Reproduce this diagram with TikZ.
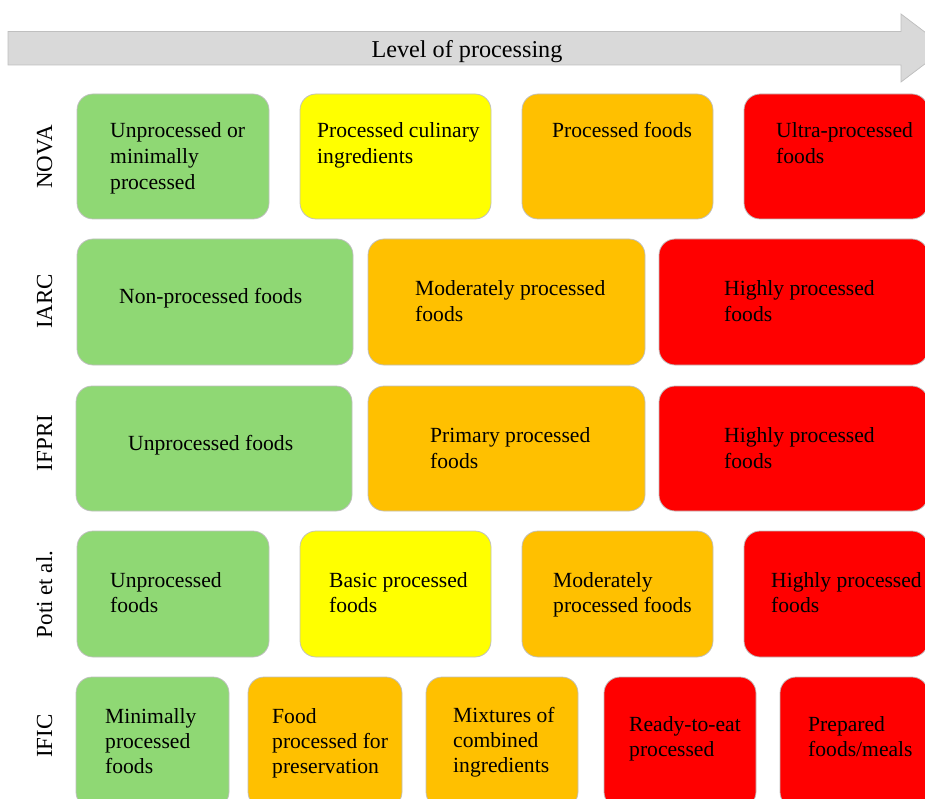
\documentclass[tikz,border=0pt]{standalone}
\usepackage{fontspec}
\setmainfont{Liberation Serif}
\usetikzlibrary{fit}
\definecolor{cgreen}{HTML}{8FD874}
\definecolor{cyellow}{HTML}{FFFF00}
\definecolor{corange}{HTML}{FFC000}
\definecolor{cred}{HTML}{FF0000}
\definecolor{carrow}{HTML}{D9D9D9}
\definecolor{cedge}{HTML}{BFBFBF}
\newcommand\tl[1]{\begin{tabular}[t]{@{}l@{}}#1\end{tabular}}
\newcommand\bx[6]{\node[catbox, fill=#2, fit={(#3,#4) (#5,#6)}] (#1) {};}
\tikzset{
  catbox/.style={draw=cedge, line width=0.75pt, rounded corners=16pt, inner sep=0pt, outer sep=0pt},
  boxtext/.style={anchor=base west, inner sep=0pt, font=\fontsize{21.6}{26}\selectfont},
  boxtextB/.style={anchor=base west, inner sep=0pt, font=\fontsize{21.6}{25}\selectfont},
  rowlabel/.style={rotate=90, anchor=base, inner sep=0pt, font=\fontsize{23}{27}\selectfont},
  arrowshape/.style={fill=carrow, draw=cedge, line width=0.75pt}
}
\begin{document}
\begin{tikzpicture}[x=1pt, y=-1pt]
\useasboundingbox (0,0) rectangle (925,799);
\clip (0,0) rectangle (925,799);
% arrow
\coordinate (a0) at (8,31.5);
\coordinate (tip) at (946,48);
\draw[arrowshape] (a0) -- (901,31.5) -- (901,14) -- (tip) -- (901,82) -- (901,65) -- (8,65) -- cycle;
\node[anchor=base, inner sep=0pt, font=\fontsize{24.2}{28}\selectfont] (title) at (467,57.3) {Level of processing};
% NOVA
\bx{n1}{cgreen}{77}{94}{269}{219}
\bx{n2}{cyellow}{300}{94}{491}{219}
\bx{n3}{corange}{522}{94}{713}{219}
\bx{n4}{cred}{744}{94}{928}{219}
\node[boxtext] (n1t) at (110,138) {\tl{Unprocessed or\\minimally\\processed}};
\node[boxtext] (n2t) at (317,138) {\tl{Processed culinary\\ingredients}};
\node[boxtext] (n3t) at (552,138) {\tl{Processed foods}};
\node[boxtext] (n4t) at (776,138) {\tl{Ultra-processed\\foods}};
\node[rowlabel] (lnova) at (52,157) {NOVA};
% IARC
\bx{i1}{cgreen}{77}{239}{353}{365}
\bx{i2}{corange}{368}{239}{645}{365}
\bx{i3}{cred}{659}{239}{928}{365}
\node[boxtext] (i1t) at (119,303) {\tl{Non-processed foods}};
\node[boxtext] (i2t) at (415,295) {\tl{Moderately processed\\foods}};
\node[boxtext] (i3t) at (724,295) {\tl{Highly processed\\foods}};
\node[rowlabel] (liarc) at (52,301.5) {IARC};
% IFPRI
\bx{f1}{cgreen}{76}{386}{352}{511}
\bx{f2}{corange}{368}{386}{645}{511}
\bx{f3}{cred}{659}{386}{928}{511}
\node[boxtext] (f1t) at (128,450) {\tl{Unprocessed foods}};
\node[boxtext] (f2t) at (430,442) {\tl{Primary processed\\foods}};
\node[boxtext] (f3t) at (724,442) {\tl{Highly processed\\foods}};
\node[rowlabel] (lifpri) at (52,443) {IFPRI};
% Poti et al.
\bx{p1}{cgreen}{77}{531}{269}{657}
\bx{p2}{cyellow}{300}{531}{491}{657}
\bx{p3}{corange}{522}{531}{713}{657}
\bx{p4}{cred}{744}{531}{928}{657}
\node[boxtextB] (p1t) at (110,587) {\tl{Unprocessed\\foods}};
\node[boxtextB] (p2t) at (329,587) {\tl{Basic processed\\foods}};
\node[boxtextB] (p3t) at (553,587) {\tl{Moderately\\processed foods}};
\node[boxtextB] (p4t) at (771,587) {\tl{Highly processed\\foods}};
\node[rowlabel] (lpoti) at (52,594.5) {Poti et al.};
% IFIC
\bx{c1}{cgreen}{76}{677}{229}{808}
\bx{c2}{corange}{248}{677}{402}{808}
\bx{c3}{corange}{426}{677}{578}{808}
\bx{c4}{cred}{604}{677}{756}{808}
\bx{c5}{cred}{780}{677}{928}{808}
\node[boxtextB] (c1t) at (105,723) {\tl{Minimally\\processed\\foods}};
\node[boxtextB] (c2t) at (272,723) {\tl{Food\\processed for\\preservation}};
\node[boxtextB] (c3t) at (453,722) {\tl{Mixtures of\\combined\\ingredients}};
\node[boxtextB] (c4t) at (629,731) {\tl{Ready-to-eat\\processed}};
\node[boxtextB] (c5t) at (808,731) {\tl{Prepared\\foods/meals}};
\node[rowlabel] (lific) at (52,736) {IFIC};
\end{tikzpicture}
\end{document}
